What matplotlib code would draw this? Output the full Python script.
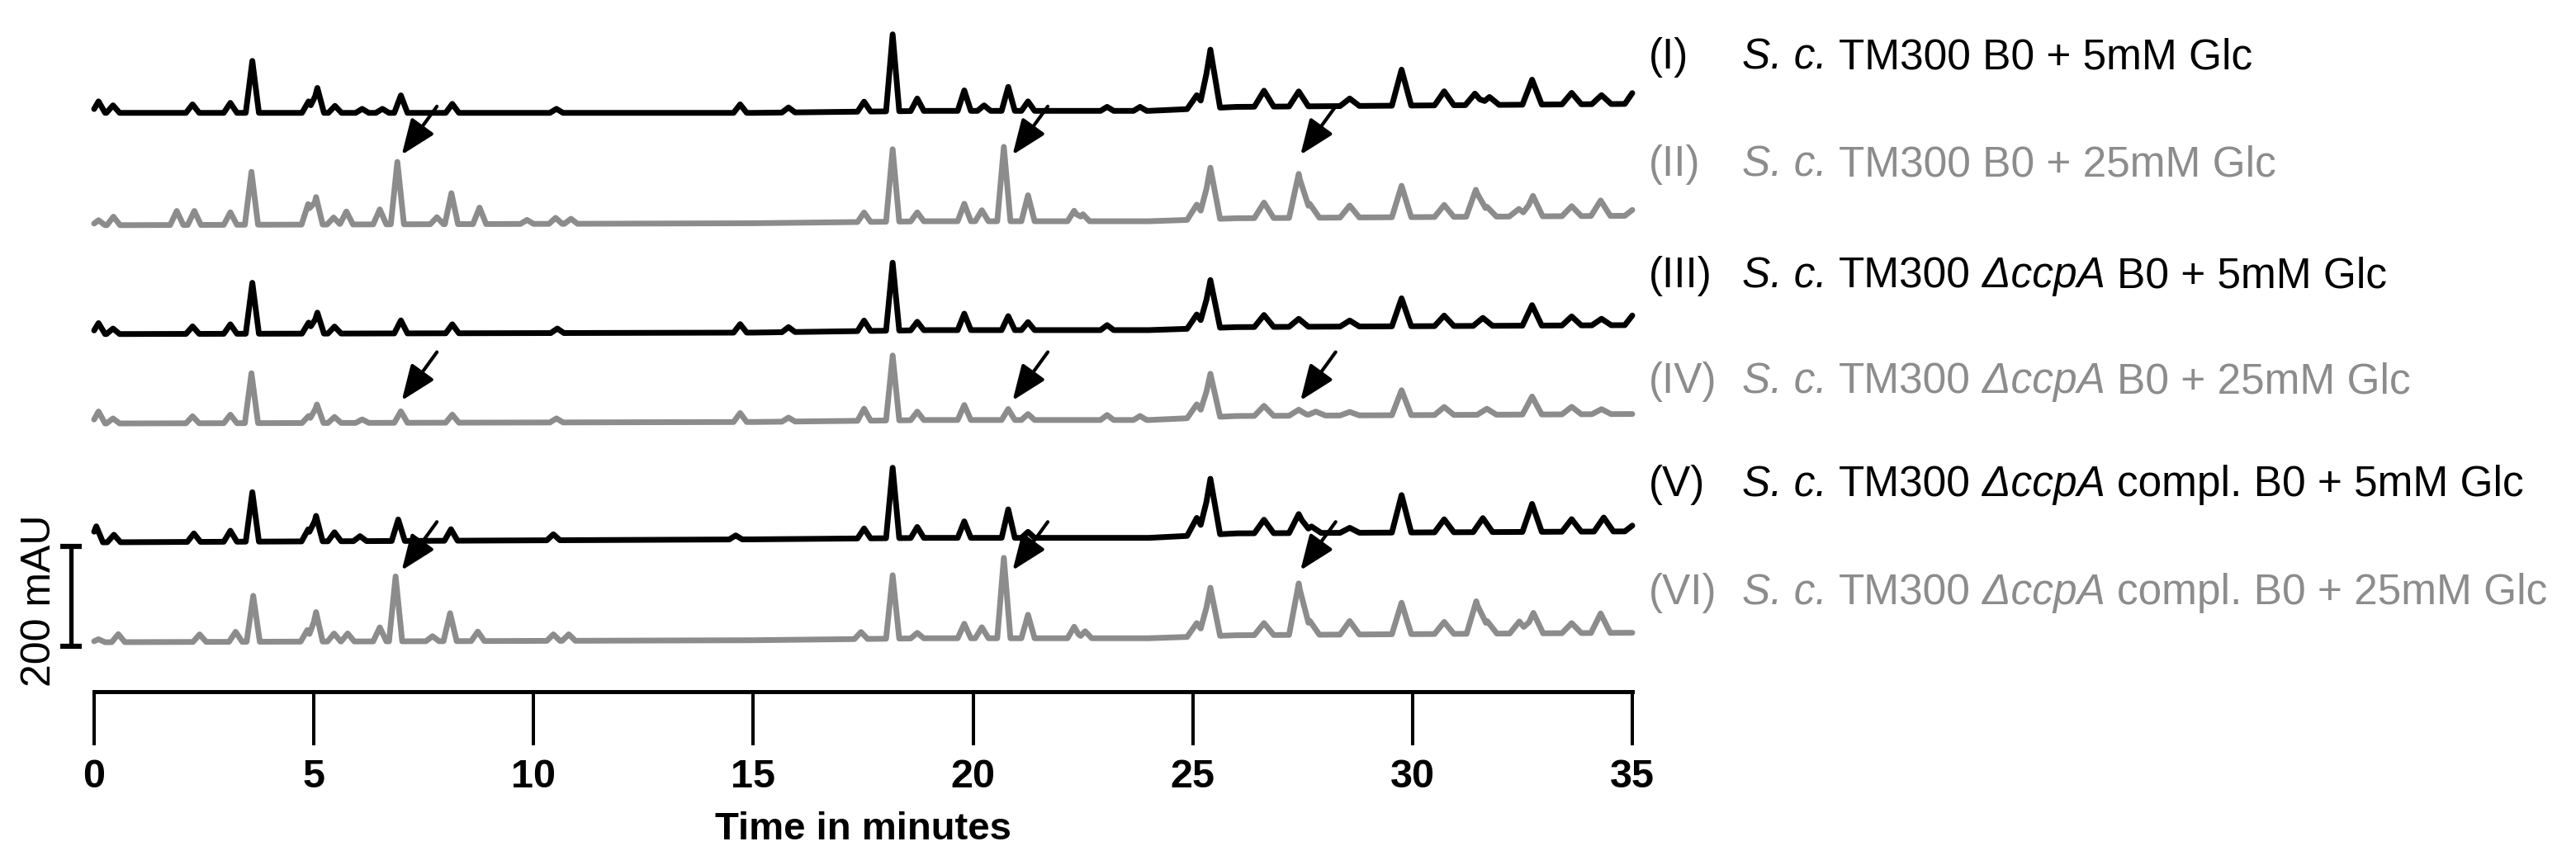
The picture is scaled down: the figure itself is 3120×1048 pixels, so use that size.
import matplotlib
matplotlib.use('Agg')
import matplotlib.pyplot as plt
import numpy as np

plt.rcParams['font.family'] = ['Liberation Sans', 'DejaVu Sans']

# ---------------- data ----------------
x_ticks = [0, 5, 10, 15, 20, 25, 30, 35]
x_label = 'Time in minutes'
scale_bar_label = '200 mAU'
scale_bar_mAU = 200

sample_ids = ['(I)', '(II)', '(III)', '(IV)', '(V)', '(VI)']
sample_pieces = [
    [('S. c.', 'italic'), ('TM300 B0 + 5mM Glc', 'normal')],
    [('S. c.', 'italic'), ('TM300 B0 + 25mM Glc', 'normal')],
    [('S. c.', 'italic'), ('TM300', 'normal'), ('\u0394ccpA', 'italic'), ('B0 + 5mM Glc', 'normal')],
    [('S. c.', 'italic'), ('TM300', 'normal'), ('\u0394ccpA', 'italic'), ('B0 + 25mM Glc', 'normal')],
    [('S. c.', 'italic'), ('TM300', 'normal'), ('\u0394ccpA', 'italic'), ('compl. B0 + 5mM Glc', 'normal')],
    [('S. c.', 'italic'), ('TM300', 'normal'), ('\u0394ccpA', 'italic'), ('compl. B0 + 25mM Glc', 'normal')],
]

# baseline drift knots (min) and drift of each trace (mAU)
drift_times = [0, 15, 19, 24, 26, 35]

# trace I  (peak retention time in min, peak height in mAU)
peaks_I_t = [0.1, 0.43, 2.24, 3.1, 3.6, 4.88, 5.08, 5.48, 6.1, 6.56, 6.98, 8.15, 10.52, 14.7, 15.8,
             17.52, 18.17, 18.73, 19.8, 20.25, 20.8, 21.25, 23.05, 23.8, 25.09, 25.4, 26.62, 27.41,
             28.57, 29.75, 30.72, 31.42, 31.75, 32.72, 33.62, 34.3, 35.05]
peaks_I_h = [23, 15, 17, 20, 104, 23, 50, 14, 8, 8, 35, 18, 8, 17, 10,
             20, 154, 25, 41, 11, 48, 19, 8, 8, 27, 117, 32, 30,
             15, 72, 28, 23, 16, 50, 23, 18, 28]
drift_I = [0, 0, 4, 4, 12, 18]

# trace II
peaks_II_t = [0.1, 0.44, 1.88, 2.28, 3.1, 3.58, 4.87, 5.05, 5.45, 5.74, 6.5, 6.9, 7.8, 8.13, 8.77,
              9.85, 10.5, 10.85, 17.52, 18.17, 18.73, 19.8, 20.2, 20.7, 21.25, 22.3, 22.5, 25.09,
              25.4, 26.62, 27.41, 27.66, 28.57, 29.75, 30.72, 31.44, 31.69, 32.42, 32.74, 33.62,
              34.28, 35.05]
peaks_II_h = [10, 17, 28, 28, 25, 106, 41, 55, 14, 26, 30, 125, 14, 62, 33,
              8, 12, 10, 19, 145, 18, 35, 22, 149, 52, 21, 14, 30,
              103, 31, 88, 28, 24, 63, 24, 54, 20, 15, 41, 20,
              31, 15]
drift_II = [0, 4, 8, 8, 14, 19]

# trace III
peaks_III_t = [0.1, 0.43, 2.24, 3.1, 3.6, 4.88, 5.08, 5.47, 6.98, 8.15, 10.54, 14.7, 15.8, 17.52,
               18.17, 18.73, 19.8, 20.8, 21.25, 23.05, 25.09, 25.4, 26.62, 27.41, 28.57, 29.75,
               30.72, 31.6, 32.72, 33.62, 34.3, 35.05]
peaks_III_h = [22, 11, 15, 19, 102, 22, 42, 14, 26, 18, 9, 17, 10, 21,
               136, 17, 33, 28, 16, 10, 28, 96, 24, 16, 12, 56,
               21, 16, 41, 18, 13, 25]
drift_III = [0, 3, 8, 8, 14, 18]

# trace IV
peaks_IV_t = [0.1, 0.43, 2.24, 3.1, 3.58, 4.88, 5.07, 5.47, 6.1, 6.98, 8.15, 10.52, 14.7, 15.8,
              17.52, 18.17, 18.73, 19.8, 20.8, 21.25, 23.05, 23.8, 25.09, 25.4, 26.62, 27.41,
              27.8, 28.57, 29.75, 30.72, 31.69, 32.72, 33.62, 34.3]
peaks_IV_h = [24, 10, 14, 17, 100, 14, 37, 12, 7, 23, 16, 8, 18, 8,
              24, 130, 17, 30, 22, 12, 10, 8, 27, 87, 20, 12,
              8, 7, 50, 16, 12, 36, 15, 10]
drift_IV = [0, 3, 7, 7, 15, 19]

# trace V
peaks_V_t = [0.05, 0.45, 2.27, 3.1, 3.6, 4.87, 5.05, 5.47, 6.05, 6.92, 8.12, 10.45, 14.6, 17.52,
             18.17, 18.73, 19.8, 20.8, 21.25, 25.09, 25.4, 26.62, 27.41, 27.7, 28.57, 29.75,
             30.72, 31.6, 32.72, 33.62, 34.35, 35.05]
peaks_V_h = [32, 15, 17, 22, 99, 24, 51, 18, 10, 43, 23, 12, 8, 20,
             141, 22, 33, 57, 12, 35, 112, 27, 38, 13, 10, 75,
             26, 28, 56, 25, 28, 15]
drift_V = [0, 6, 9, 9, 18, 22]

# trace VI
peaks_VI_t = [0.1, 0.55, 2.4, 3.22, 3.62, 4.85, 5.05, 5.46, 5.77, 6.5, 6.86, 7.7, 8.1, 8.73, 10.45,
              10.8, 17.45, 18.17, 18.73, 19.8, 20.2, 20.7, 21.25, 22.3, 22.55, 25.09, 25.4, 26.62,
              27.41, 27.66, 28.57, 29.75, 30.72, 31.45, 31.7, 32.43, 32.75, 33.62, 34.28]
peaks_VI_h = [6, 16, 15, 20, 92, 23, 59, 16, 16, 28, 130, 10, 56, 19, 13,
              13, 14, 127, 11, 29, 22, 161, 47, 23, 14, 27, 97, 24,
              103, 28, 27, 63, 24, 65, 25, 24, 41, 20, 39]
drift_VI = [0, 4, 8, 8, 14, 19]

# arrows: retention times marked, and the trace each set points to
arrow_times = [7.0, 20.9, 27.45]
arrow_traces = [1, 3, 5]

# ---------------- layout / style ----------------
W, H = 3120, 1048
trace_offsets = [1159, 934, 716, 537, 299, 99]     # vertical stacking (mAU)
arrow_tip_levels = [141, 46, 144]                  # above the trace baseline (mAU)
BLACK = '#000000'
GRAY = '#8c8c8c'
trace_colors = [BLACK, GRAY, BLACK, GRAY, BLACK, GRAY]

traces = [(peaks_I_t, peaks_I_h, drift_I), (peaks_II_t, peaks_II_h, drift_II),
          (peaks_III_t, peaks_III_h, drift_III), (peaks_IV_t, peaks_IV_h, drift_IV),
          (peaks_V_t, peaks_V_h, drift_V), (peaks_VI_t, peaks_VI_h, drift_VI)]


def build_trace(times, heights, drift):
    t = np.asarray(times, float)
    h = np.asarray(heights, float)
    w = np.where(t < 24, 0.15, 0.22)
    xs = np.concatenate([drift_times, t - w, t, t + w])
    xs = np.unique(np.clip(xs, 0, 35))
    ys = np.interp(xs, drift_times, drift)
    for ti, hi, wi in zip(t, h, w):
        ys = ys + np.interp(xs, [ti - wi, ti, ti + wi], [0, hi, 0])
    return xs, ys


fig = plt.figure(figsize=(W / 100, H / 100), dpi=100)
ax = fig.add_axes([114 / W, 210 / H, 1863 / W, 838 / H])
ax.set_xlim(0, 35)
ax.set_ylim(0, 1385)

for i, (tt, hh, dd) in enumerate(traces):
    xs, ys = build_trace(tt, hh, dd)
    ax.plot(xs, ys + trace_offsets[i], color=trace_colors[i], lw=5.0,
            solid_joinstyle='round', solid_capstyle='round', clip_on=False)

# arrows
for s, tr in enumerate(arrow_traces):
    for t in arrow_times:
        tip = (t, trace_offsets[tr] + arrow_tip_levels[s])
        tail = (t + 0.8, tip[1] + 97)
        ax.annotate('', xy=tip, xytext=tail,
                    arrowprops=dict(arrowstyle='-|>,head_length=0.65,head_width=0.26',
                                    color='black', lw=3.0, shrinkA=0, shrinkB=0,
                                    mutation_scale=40))

# axis
for sp in ['left', 'top', 'right']:
    ax.spines[sp].set_visible(False)
ax.spines['bottom'].set_bounds(0, 35)
ax.spines['bottom'].set_linewidth(3.6)
ax.set_yticks([])
ax.set_xticks(x_ticks)
ax.set_xticklabels([str(v) for v in x_ticks])
ax.tick_params(axis='x', direction='out', length=47, width=2.9, pad=11, labelsize=35)
for lbl in ax.get_xticklabels():
    lbl.set_fontweight('bold')
fig.text((114 + 1977) / 2 / W, 1 - 1005 / H, x_label, ha='center', va='center',
         fontsize=34, fontweight='bold')

# scale bar
bar_x = -0.526
bar_bottom = trace_offsets[5] - 8
ax.plot([bar_x, bar_x], [bar_bottom, bar_bottom + scale_bar_mAU], color='black', lw=3.8,
        clip_on=False, solid_capstyle='butt')
for yy in [bar_bottom, bar_bottom + scale_bar_mAU]:
    ax.plot([bar_x - 0.25, bar_x + 0.25], [yy, yy], color='black', lw=4.5, clip_on=False,
            solid_capstyle='butt')
ax.text(-1.24, bar_bottom + scale_bar_mAU / 2 - 9, scale_bar_label, rotation=90,
        ha='center', va='center', fontsize=36, clip_on=False)

# sample labels
renderer = fig.canvas.get_renderer()
label_fs = 37
label_y_px = [65, 195, 330, 458, 583, 714]
cap_half = 0.716 * label_fs * 100 / 72 / 2
gap_px = 0.278 * label_fs * 100 / 72
for i in range(6):
    c = trace_colors[i]
    yb = 1 - (label_y_px[i] + cap_half) / H
    fig.text(1997 / W, yb, sample_ids[i], color=c, fontsize=label_fs, va='baseline', ha='left')
    x = 2110.0
    for s, style in sample_pieces[i]:
        t = fig.text(x / W, yb, s, color=c, fontsize=label_fs, style=style,
                     va='baseline', ha='left')
        x += t.get_window_extent(renderer).width + gap_px

fig.savefig('out.png', dpi=100, facecolor='white')
